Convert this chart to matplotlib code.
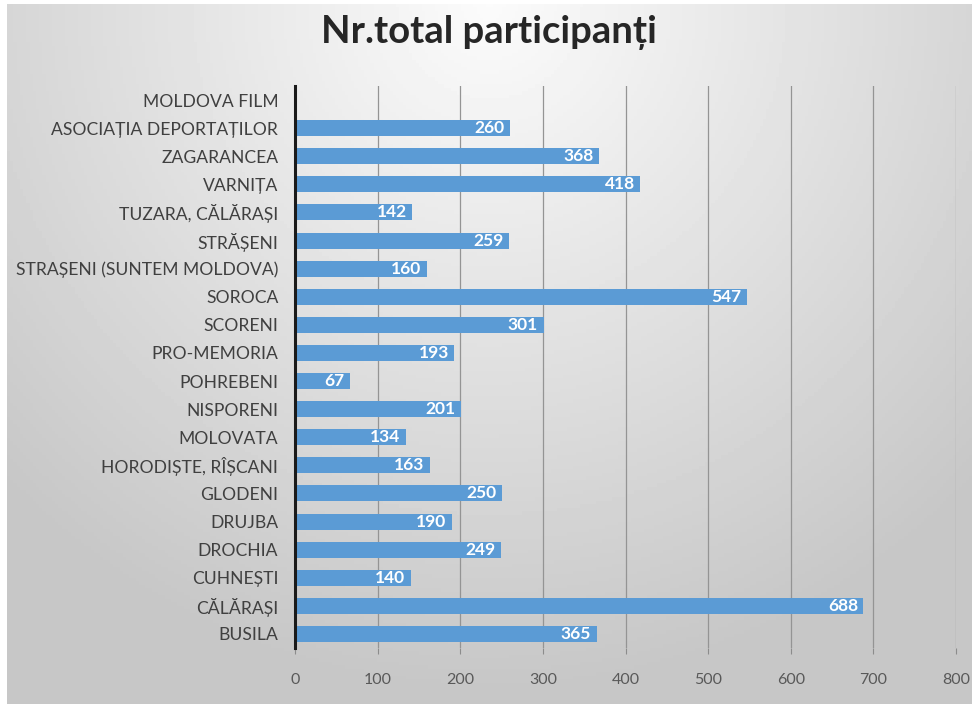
import numpy as np
import matplotlib
matplotlib.use("Agg")
import matplotlib.pyplot as plt

categories = ["MOLDOVA FILM", "ASOCIAȚIA DEPORTAȚILOR", "ZAGARANCEA", "VARNIȚA",
              "TUZARA, CĂLĂRAȘI", "STRĂȘENI", "STRAȘENI (SUNTEM MOLDOVA)", "SOROCA",
              "SCORENI", "PRO-MEMORIA", "POHREBENI", "NISPORENI", "MOLOVATA",
              "HORODIȘTE, RÎȘCANI", "GLODENI", "DRUJBA", "DROCHIA", "CUHNEȘTI",
              "CĂLĂRAȘI", "BUSILA"]
values = [0, 260, 368, 418, 142, 259, 160, 547, 301, 193, 67, 201, 134, 163,
          250, 190, 249, 140, 688, 365]
xticks = [0, 100, 200, 300, 400, 500, 600, 700, 800]
title = "Nr.total participanți"

W, H = 972, 704
fig = plt.figure(figsize=(W / 100, H / 100), dpi=100)
fig.patch.set_facecolor("white")

# background gradient panel
bg = fig.add_axes([7 / W, 0, 1 - 8 / W, 1 - 4 / H])
bg.set_axis_off()
yy, xx = np.mgrid[0:1:200j, 0:1:300j]
d = np.sqrt(((xx - 0.5) / 0.75) ** 2 + ((yy - 0.0) / 1.05) ** 2)
g = np.clip(0.985 - 0.22 * d, 0.78, 0.99)
bg.imshow(g, cmap="gray", vmin=0, vmax=1, aspect="auto", extent=[0, 1, 1, 0])
bg.set_xlim(0, 1)
bg.set_ylim(1, 0)

ax = fig.add_axes([295 / W, 1 - 648 / H, (956 - 295) / W, (648 - 86) / H])
ax.patch.set_alpha(0)
y = np.arange(len(categories))
ax.barh(y, values, height=0.57, color="#5b9bd5", zorder=3)
ax.set_ylim(len(categories) - 0.5, -0.5)
ax.set_xlim(0, 800)
ax.set_xticks(xticks)
ax.set_xticklabels([str(t) for t in xticks], fontsize=11.5, color="#595959", family="Lato")
ax.set_yticks(y)
ax.set_yticklabels(categories, fontsize=12.6, color="#404040", family="Lato")
ax.tick_params(axis="y", length=0, pad=12)
ax.tick_params(axis="x", length=4, color="#8c8c8c", pad=14, width=0.8)
ax.grid(axis="x", color="#949494", linewidth=0.9, zorder=1)
for s in ["top", "right", "bottom"]:
    ax.spines[s].set_visible(False)
ax.spines["left"].set_color("#1a1a1a")
ax.spines["left"].set_linewidth(2.2)
ax.spines["left"].set_zorder(4)

for yi, v in zip(y, values):
    if v > 0:
        ax.annotate(str(v), (v, yi), xytext=(-4, 0), textcoords="offset points",
                    ha="right", va="center", color="white", fontsize=12.5,
                    fontweight="bold", family="Lato", zorder=5)

fig.text(489 / W, 1 - 33 / H, title, ha="center", va="center", fontsize=27.5,
         fontweight="bold", color="#262626", family="Lato")

fig.savefig("out.png", dpi=100)
